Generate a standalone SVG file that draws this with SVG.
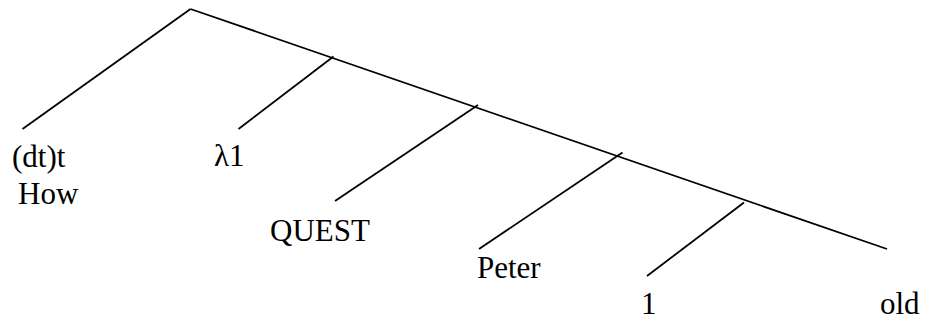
<svg xmlns="http://www.w3.org/2000/svg" width="926" height="320" viewBox="0 0 926 320">
<style>
.l{stroke:#000;stroke-width:1.8;fill:none;stroke-linecap:butt}
</style>
<rect width="926" height="320" fill="#fff"/>
<g id="connectors">
<path class="l" d="M190.5,9 L887,249"/>
<path class="l" d="M190.5,9 L22.5,129"/>
<path class="l" d="M333.5,56.5 L238.5,129"/>
<path class="l" d="M478,105 L335,201"/>
<path class="l" d="M622.5,152.5 L479,249"/>
<path class="l" d="M744,202.5 L647,276"/>
</g>
<g font-family="Liberation Serif, Times New Roman, DejaVu Serif, serif" font-size="31" fill="#000">
<g id="n-dtt"><text x="12" y="167">(dt)t</text></g>
<g id="n-how"><text x="18" y="204">How</text></g>
<g id="n-lambda"><text x="214" y="166">λ1</text></g>
<g id="n-quest"><text x="270" y="241">QUEST</text></g>
<g id="n-peter"><text x="477" y="278">Peter</text></g>
<g id="n-1"><text x="641" y="314">1</text></g>
<g id="n-old"><text x="880" y="314">old</text></g>
</g>
</svg>
